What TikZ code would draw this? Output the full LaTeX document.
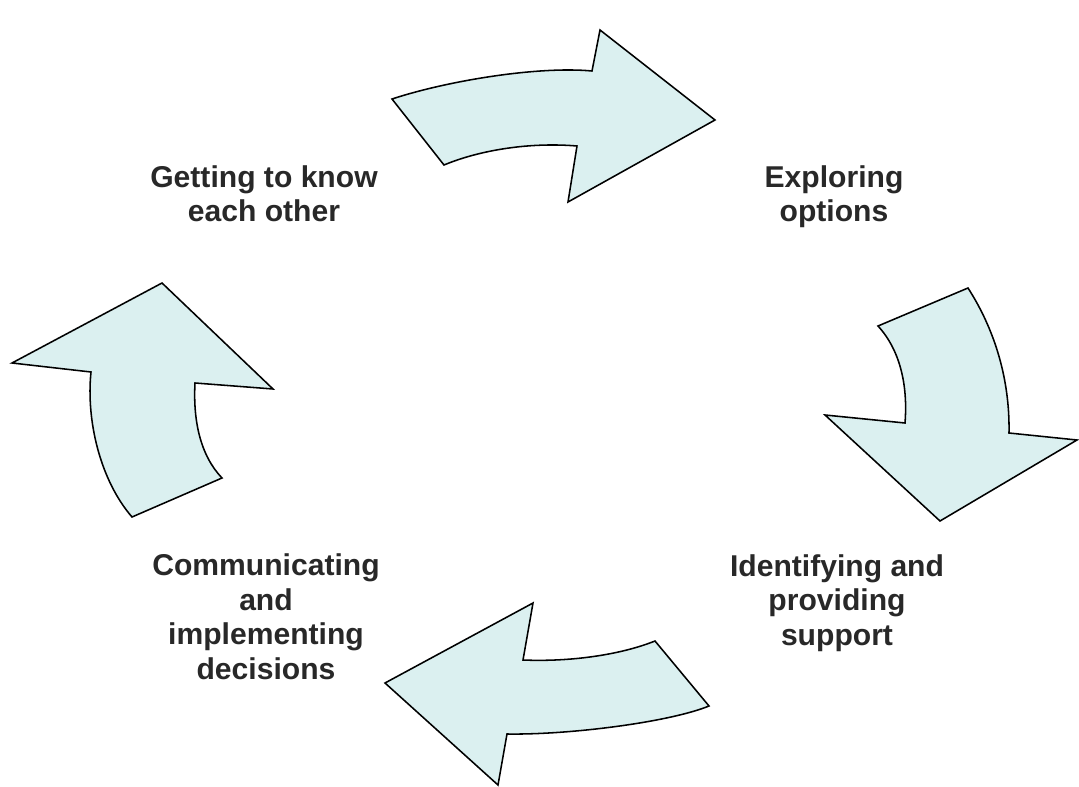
\documentclass[tikz,border=0pt]{standalone}
\usepackage{fontspec}
\setmainfont{Liberation Sans}
\definecolor{PaleCyan}{RGB}{219, 240, 240}
\definecolor{TextGrey}{RGB}{40, 40, 40}
\usetikzlibrary{positioning}

\begin{document}
\begin{tikzpicture}[x=0.025cm, y=-0.025cm,
    blockarrow/.style={draw=black, fill=PaleCyan, line width=1.1pt, line join=miter},
    stage/.style={align=center, anchor=base, text=TextGrey, font=\fontsize{21.4}{24.5}\selectfont\bfseries}]
    \useasboundingbox (0,0) rectangle (1079,787);
    \path[blockarrow] (392,99) -- (444,165) .. controls (480,150) and (530,142) .. (577,146) -- (568,202) -- (715,120) -- (600,30) -- (592,71) .. controls (540,66) and (450,80) .. (392,99) -- cycle;
    \path[blockarrow] (878,326) -- (968,288) .. controls (995,330) and (1010,380) .. (1009,433) -- (1077,440) -- (940,521) -- (825,415) -- (905,423) .. controls (908,385) and (900,350) .. (878,326) -- cycle;
    \path[blockarrow] (655,641) -- (709,706) .. controls (670,722) and (570,735) .. (507,734) -- (498,785) -- (385,683) -- (533,603) -- (523,660) .. controls (570,662) and (620,655) .. (655,641) -- cycle;
    \path[blockarrow] (132,517) -- (222,478) .. controls (200,455) and (193,420) .. (195,383) -- (273,389) -- (162,283) -- (12,363) -- (91,372) .. controls (86,420) and (100,480) .. (132,517) -- cycle;
    \node[stage] (know) at (264,222) {Getting to know\\each other};
    \node[stage] (explore) at (834,222) {Exploring\\options};
    \node[stage] (support) at (837,645) {Identifying and\\providing\\support};
    \node[stage] (decide) at (266,679) {Communicating\\and\\implementing\\decisions};
\end{tikzpicture}
\end{document}
